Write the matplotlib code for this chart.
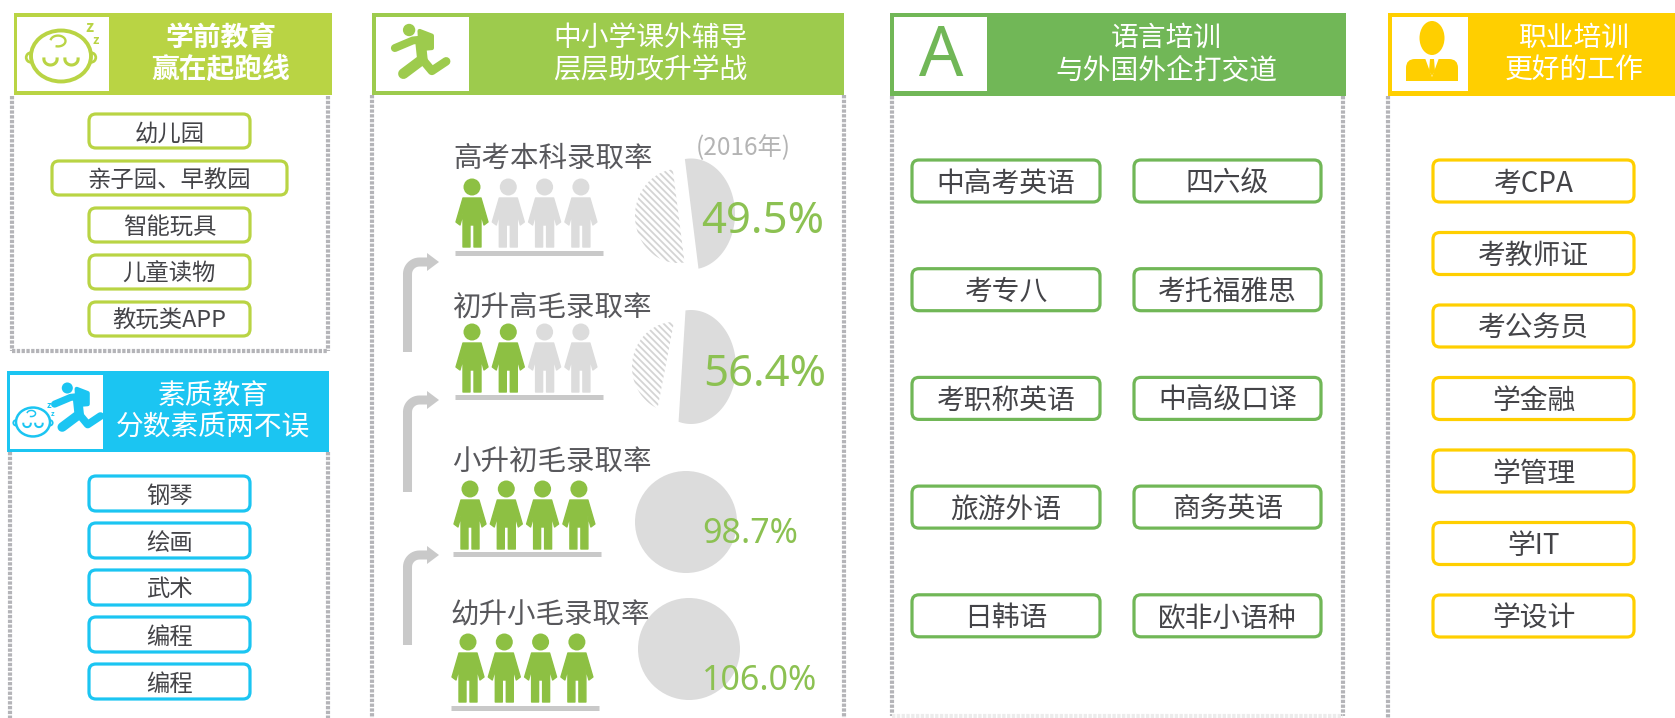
import numpy as np
import matplotlib
matplotlib.use("Agg")
import matplotlib.pyplot as plt
from matplotlib.patches import Circle, Ellipse, FancyBboxPatch, Polygon, Rectangle

plt.rcParams['font.family'] = ['Noto Sans CJK SC', 'DejaVu Sans']
plt.rcParams['hatch.linewidth'] = 1.3

# colours
LIME = '#b9d444'
BLUE = '#1bc5f2'
GREEN = '#9dcb4d'
DGREEN = '#71b757'
YELLOW = '#ffcf00'
GRAY = '#dcdcdc'
DOT = '#b4b4b8'
BAR = '#c9c9c9'
PERSON = '#8dc043'

# data
preschool_items = ['幼儿园', '亲子园、早教园', '智能玩具', '儿童读物', '教玩类APP']
quality_items = ['钢琴', '绘画', '武术', '编程', '编程']
language_left = ['中高考英语', '考专八', '考职称英语', '旅游外语', '日韩语']
language_right = ['四六级', '考托福雅思', '中高级口译', '商务英语', '欧非小语种']
career_items = ['考CPA', '考教师证', '考公务员', '学金融', '学管理', '学IT', '学设计']
rate_names = ['高考本科录取率', '初升高毛录取率', '小升初毛录取率', '幼升小毛录取率']
rates = [49.5, 56.4, 98.7, 106.0]
green_people = [1, 2, 4, 4]

fig = plt.figure(figsize=(16.75, 7.18), dpi=100)
ax = fig.add_axes([0, 0, 1, 1])
ax.set_xlim(0, 1675)
ax.set_ylim(718, 0)
ax.axis('off')


def header(x0, x1, y0, y1, box, color, lines, cx, weight='medium'):
    ax.add_patch(Rectangle((x0, y0), x1 - x0, y1 - y0, fc=color, ec='none', zorder=2))
    ax.add_patch(Rectangle((box[0], box[2]), box[1] - box[0], box[3] - box[2], fc='white', ec='none', zorder=3))
    for t, y in zip(lines, [y0 + 25, y0 + 57]):
        ax.text(cx, y, t, color='white', fontsize=20, ha='center', va='center', weight=weight, zorder=4)


def dotted(x0, x1, y0, y1, right=True, bottom=DOT):
    kw = dict(lw=3, ls=(0, (0.8, 0.35)), zorder=1)
    ax.plot([x0, x0], [y0, y1], color=DOT, **kw)
    if right:
        ax.plot([x1, x1], [y0, y1], color=DOT, **kw)
    ax.plot([x0, x1], [y1, y1], color=bottom, **kw)


def button(x0, x1, y0, y1, color, label, size):
    ax.add_patch(FancyBboxPatch((x0, y0), x1 - x0, y1 - y0, boxstyle='round,pad=0,rounding_size=7',
                                fc='white', ec=color, lw=2.3, zorder=3))
    ax.text((x0 + x1) / 2, (y0 + y1) / 2 + 2.5, label, color='#444448', fontsize=size, ha='center',
            va='center', zorder=4)


def person(cx, hy, color):
    ax.add_patch(Circle((cx, hy), 8.5, fc=color, ec='none', zorder=3))
    shape = [(-9, 11), (9, 11), (16, 35), (12, 38), (9, 27), (9, 60), (2, 60), (2, 38),
             (-2, 38), (-2, 60), (-9, 60), (-9, 27), (-12, 38), (-16, 35)]
    pts = [(cx + a, hy + b) for a, b in shape]
    ax.add_patch(Polygon(pts, closed=True, fc=color, ec=color, lw=1, joinstyle='round', zorder=3))


def arc_piece(cx, cy, rx, ry, start, sweep, n=80):
    t = np.radians(np.linspace(start, start + sweep, n))
    return np.column_stack([cx + rx * np.cos(t), cy + ry * np.sin(t)])


def baby(cx, cy, r, color, lw=2.6):
    ax.add_patch(Ellipse((cx, cy), 2 * r, 1.7 * r, fc='white', ec=color, lw=lw, zorder=5))
    ax.add_patch(Circle((cx - r * 1.0, cy + r * 0.05), r * 0.16, fc='white', ec=color, lw=lw * 0.7, zorder=4))
    ax.add_patch(Circle((cx + r * 1.0, cy + r * 0.05), r * 0.16, fc='white', ec=color, lw=lw * 0.7, zorder=4))
    for s in [-1, 1]:
        p = arc_piece(cx + s * r * 0.35, cy + r * 0.1, r * 0.22, r * 0.2, 0, 180)
        ax.plot(p[:, 0], p[:, 1], color=color, lw=lw * 0.8, zorder=6)
    curl = arc_piece(cx - r * 0.1, cy - r * 0.5, r * 0.25, r * 0.18, 200, 260)
    ax.plot(curl[:, 0], curl[:, 1], color=color, lw=lw * 0.6, zorder=6)
    ax.text(cx + r * 0.95, cy - r * 0.95, 'z', color=color, fontsize=r * 0.38, weight='bold', ha='center', va='center', zorder=6)
    ax.text(cx + r * 1.15, cy - r * 0.5, 'z', color=color, fontsize=r * 0.3, weight='bold', ha='center', va='center', zorder=6)


def runner(cx, cy, s, color):
    kw = dict(color=color, solid_capstyle='round', solid_joinstyle='round', zorder=5)
    ax.add_patch(Circle((cx - 2 * s, cy - 20 * s), 6.5 * s, fc=color, ec='none', zorder=5))
    ax.plot([cx - 17 * s, cx + 2 * s, cx + 12 * s], [cy - 1 * s, cy - 9 * s, cy - 10 * s], lw=6 * s, **kw)
    ax.add_patch(Polygon([(cx + 9 * s, cy - 19 * s), (cx + 22 * s, cy - 14 * s), (cx + 22 * s, cy - 1 * s), (cx + 10 * s, cy)],
                         closed=True, fc=color, ec=color, lw=3, joinstyle='round', zorder=5))
    ax.plot([cx + 10 * s, cx + 12 * s, cx - 8 * s], [cy - 8 * s, cy + 11 * s, cy + 26 * s], lw=8 * s, **kw)
    ax.plot([cx + 12 * s, cx + 22 * s, cx + 37 * s], [cy + 11 * s, cy + 23 * s, cy + 13 * s], lw=6.5 * s, **kw)


def manager(cx, cy, color):
    ax.add_patch(Ellipse((cx, cy - 13), 25, 34, fc=color, ec='none', zorder=5))
    ax.add_patch(FancyBboxPatch((cx - 26, cy + 8), 52, 22, boxstyle='round,pad=0,rounding_size=9',
                                fc=color, ec='none', zorder=5))
    ax.add_patch(Rectangle((cx - 26, cy + 20), 52, 10, fc=color, ec='none', zorder=5))
    ax.add_patch(Polygon([(cx - 7, cy + 7), (cx + 7, cy + 7), (cx, cy + 26)], closed=True, fc='white', ec='none', zorder=6))
    ax.add_patch(Polygon([(cx - 2, cy + 8), (cx + 2, cy + 8), (cx + 3, cy + 20), (cx, cy + 25), (cx - 3, cy + 20)],
                         closed=True, fc=color, ec='none', zorder=7))


# panel 1: preschool
header(14, 332, 13, 95, (17, 109, 17, 91), LIME, ['学前教育', '赢在起跑线'], 221, weight='bold')
dotted(12, 328, 96, 351)
baby(61, 56, 30, LIME, 2.8)
pre_x = [(89, 250), (52, 287), (89, 250), (89, 250), (89, 250)]
for i, t in enumerate(preschool_items):
    y0 = 114 + i * 47
    button(pre_x[i][0], pre_x[i][1], y0, y0 + 34, LIME, t, 16.8)

# panel 1b: quality education
header(7, 329, 371, 452, (10, 103, 375, 449), BLUE, ['素质教育', '分数素质两不误'], 213)
dotted(10, 328, 452, 725)
baby(33, 422, 17, BLUE, 1.8)
runner(69, 405, 0.85, BLUE)
for i, t in enumerate(quality_items):
    y0 = 476 + i * 47
    button(89, 250, y0, y0 + 35, BLUE, t, 16.8)

# panel 2: school tutoring
header(372, 844, 13, 95, (376, 469, 17, 91), GREEN, ['中小学课外辅导', '层层助攻升学战'], 650)
dotted(372, 844, 95, 725)
runner(411, 49, 0.95, GREEN)
label_xy = [(453, 159), (453, 308), (452, 463), (450, 615)]
head_y = [187, 332, 489, 642]
person_x = [472, 472, 470, 468]
bar_y = [253, 397, 554, 708]
for i, name in enumerate(rate_names):
    ax.text(label_xy[i][0], label_xy[i][1], name, color='#58585c', fontsize=20.5, ha='left', va='center', zorder=6)
    for k in range(4):
        person(person_x[i] + k * 36.3, head_y[i], PERSON if k < green_people[i] else GRAY)
    ax.plot([person_x[i] - 17, person_x[i] + 131], [bar_y[i], bar_y[i]], color=BAR, lw=3.6, solid_capstyle='butt', zorder=2)

ax.text(743, 148, '(2016年)', color='#b4b4b4', fontsize=17.5, ha='center', va='center')

# the pies are cut into a plain and a hatched piece
pie_pos = [(691, 214, 44, 55.5, -98), (691, 367, 45, 57, -97)]
hatch_pos = [(678, 216, 43, 47, -97), (674, 367, 42, 45, -90)]
for i in range(2):
    cx, cy, rx, ry, st = pie_pos[i]
    piece = arc_piece(cx, cy, rx, ry, st, rates[i] * 3.6)
    ax.add_patch(Polygon(piece, closed=True, fc=GRAY, ec='none', zorder=2))
    cx, cy, rx, ry, st = hatch_pos[i]
    piece = arc_piece(cx, cy, rx, ry, st, -(100 - rates[i]) * 3.6)
    ax.add_patch(Polygon(piece, closed=True, fc='white', ec='#d4d4d4', lw=0, hatch='\\\\\\\\\\', zorder=2))
for (cx, cy) in [(686, 522), (689, 649)]:
    ax.add_patch(Circle((cx, cy), 51, fc=GRAY, ec='none', zorder=2))

rate_xy = [(701, 222), (703, 375), (702, 534), (702, 681)]
rate_size = [31.5, 31.5, 24.5, 24.5]
for i, v in enumerate(rates):
    ax.text(rate_xy[i][0], rate_xy[i][1], '%.1f%%' % v, color='#8cc152', fontsize=rate_size[i],
            family='Noto Sans', ha='left', va='center', zorder=6)

# elbow arrows between rows
arrow_bottom = [352, 492, 645]
arrow_y = [262, 400, 555]
for b, y in zip(arrow_bottom, arrow_y):
    corner = arc_piece(419.5, y + 12, 12, 12, 180, 90, n=12)
    xs = [407.5] + list(corner[:, 0]) + [430]
    ys = [b] + list(corner[:, 1]) + [y]
    ax.plot(xs, ys, color=BAR, lw=6.5, solid_joinstyle='round', solid_capstyle='butt', zorder=2)
    ax.add_patch(Polygon([(427, y - 9), (439, y), (427, y + 9)], closed=True, fc=BAR, ec='none', zorder=2))

# panel 3: languages
header(890, 1346, 13, 96, (894, 987, 17, 91), DGREEN, ['语言培训', '与外国外企打交道'], 1166)
dotted(892, 1343, 96, 716, bottom='#ececec')
ax.text(941, 58, 'A', color=DGREEN, fontsize=50, weight='bold', family='Noto Sans', ha='center', va='center', zorder=5)
for i in range(5):
    y0 = 160 + i * 108.7
    button(912, 1100, y0, y0 + 42, DGREEN, language_left[i], 20)
    button(1134, 1321, y0, y0 + 42, DGREEN, language_right[i], 20)

# panel 4: career
header(1388, 1675, 13, 96, (1392, 1468, 17, 91), YELLOW, ['职业培训', '更好的工作'], 1574)
dotted(1388, 1670, 96, 725, right=False)
manager(1432, 51, YELLOW)
for i, t in enumerate(career_items):
    y0 = 160 + i * 72.5
    button(1433, 1634, y0, y0 + 42, YELLOW, t, 20)

fig.savefig('out.png', dpi=100, facecolor='white')
